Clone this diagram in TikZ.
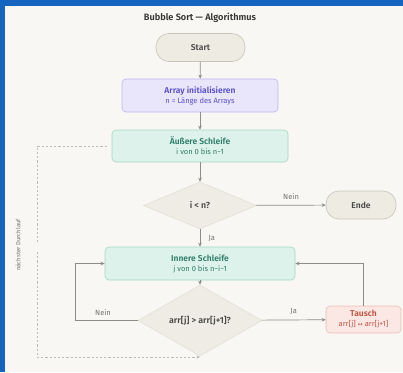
\documentclass[tikz,border=0pt]{standalone}
\usepackage{fontspec}
\setmainfont{Fira Sans}[BoldFont={Fira Sans SemiBold}]
\newfontfamily\arrowfont{DejaVu Sans}
\usetikzlibrary{shapes.geometric,arrows.meta}

\definecolor{frameblue}{HTML}{1565C0}
\definecolor{paper}{HTML}{F8F7F3}
\definecolor{termfill}{HTML}{EEEBE3}
\definecolor{termline}{HTML}{C8C4B9}
\definecolor{termtext}{HTML}{4A4A46}
\definecolor{initfill}{HTML}{E9E6FB}
\definecolor{initline}{HTML}{BDB5F0}
\definecolor{inittext}{HTML}{5B4FCB}
\definecolor{loopfill}{HTML}{DDF2EB}
\definecolor{loopline}{HTML}{A3D8C6}
\definecolor{looptext}{HTML}{2F7D68}
\definecolor{decfill}{HTML}{EEECE4}
\definecolor{decline}{HTML}{E2DFD5}
\definecolor{swapfill}{HTML}{FBE8E4}
\definecolor{swapline}{HTML}{EDBDB4}
\definecolor{swaptext}{HTML}{C0533F}
\definecolor{wire}{HTML}{8C8C88}
\definecolor{dashwire}{HTML}{BDBBB5}
\definecolor{labeltext}{HTML}{74736F}

% smaller second line inside a box
\newcommand{\detailline}[1]{{\fontsize{7.5}{8}\selectfont\mdseries #1}}

\tikzset{
  x=1pt, y=-1pt,
  base/.style={align=center, inner sep=0pt, line width=0.6pt,
    font=\fontsize{8.5}{10}\selectfont\bfseries},
  terminal/.style={base, draw=termline, fill=termfill, text=termtext,
    rounded corners=13pt},
  initbox/.style={base, draw=initline, fill=initfill, text=inittext,
    rounded corners=4pt},
  loopbox/.style={base, draw=loopline, fill=loopfill, text=looptext,
    rounded corners=4pt},
  swapbox/.style={base, draw=swapline, fill=swapfill, text=swaptext,
    rounded corners=4pt},
  decision/.style={base, diamond, aspect=1, draw=decline, fill=decfill,
    text=termtext, font=\fontsize{8.8}{10}\selectfont\bfseries},
  flow/.style={draw=wire, line width=0.7pt,
    -{Stealth[length=4pt,width=3.6pt]}},
  backflow/.style={draw=dashwire, line width=0.7pt,
    dash pattern=on 2.2pt off 2pt},
  edgelabel/.style={font=\fontsize{7.5}{8}\selectfont, text=labeltext}
}

\begin{document}
\begin{tikzpicture}
  % frame and paper
  \fill[frameblue] (0,0) rectangle (403,372);
  \fill[paper] (5,6) rectangle (403,372);
  \useasboundingbox (0,0) rectangle (403,372);

  \node[font=\fontsize{9.2}{10}\selectfont\bfseries, text=black!80] (title)
    at (200,18) {Bubble Sort — Algorithmus};

  % nodes
  \node[terminal, minimum width=89pt, minimum height=28pt] (start)
    at (200.5,47.5) {Start};
  \node[initbox, minimum width=156pt, minimum height=33pt] (init)
    at (200,95.5) {Array initialisieren\\\detailline{n = Länge des Arrays}};
  \node[loopbox, minimum width=176pt, minimum height=32pt] (outer)
    at (200,146) {Äußere Schleife\\\detailline{i von 0 bis n−1}};
  \node[decision, minimum width=113pt, minimum height=47pt] (cond1)
    at (200,205.5) {i < n?};
  \node[terminal, minimum width=70pt, minimum height=28pt] (ende)
    at (361,205) {Ende};
  \node[loopbox, minimum width=190pt, minimum height=33pt] (inner)
    at (200,263.5) {Innere Schleife\\\detailline{j von 0 bis n−i−1}};
  \node[decision, minimum width=124pt, minimum height=47pt] (cond2)
    at (200,320.5) {arr[j] > arr[j+1]?};
  \node[swapbox, minimum width=75pt, minimum height=27pt] (swap)
    at (363.5,319.5)
    {Tausch\\\detailline{arr[j] {\arrowfont\fontsize{6}{7}\selectfont ↔} arr[j+1]}};

  % routing points
  \coordinate (nl) at (75,263.5);
  \coordinate (sr) at (363.5,263.5);
  \coordinate (dtop) at (37,146);
  \coordinate (gapa) at (37,242);
  \coordinate (gapb) at (37,252);
  \coordinate (dbot) at (37,357);
  \coordinate (dend) at (200,357);

  % main flow
  \draw[flow] (start) -- (init);
  \draw[flow] (init) -- (outer);
  \draw[flow] (outer) -- (cond1);
  \draw[flow] (cond1) -- node[edgelabel, above=2pt] {Nein} (ende);
  \draw[flow] (cond1) -- node[edgelabel, right=5pt] {Ja} (inner);
  \draw[flow] (inner) -- (cond2);
  \draw[flow] (cond2.west) -| (nl) -- (inner.west);
  \node[edgelabel] (neinlbl) at (103,313) {Nein};
  \draw[flow] (cond2) -- node[edgelabel, above=2pt] {Ja} (swap);
  \draw[flow] (swap.north) -- (sr) -- (inner.east);

  % next pass of the outer loop
  \draw[backflow, shorten <=5pt] (outer.west) -- (dtop) -- (gapa);
  \draw[backflow, -{Stealth[length=3.5pt,width=3.2pt]}]
    (gapb) -- (dbot) -- (dend);
  \node[edgelabel, font=\fontsize{6}{7}\selectfont, rotate=90] (passlbl)
    at (18,245) {nächster Durchlauf};
\end{tikzpicture}
\end{document}
